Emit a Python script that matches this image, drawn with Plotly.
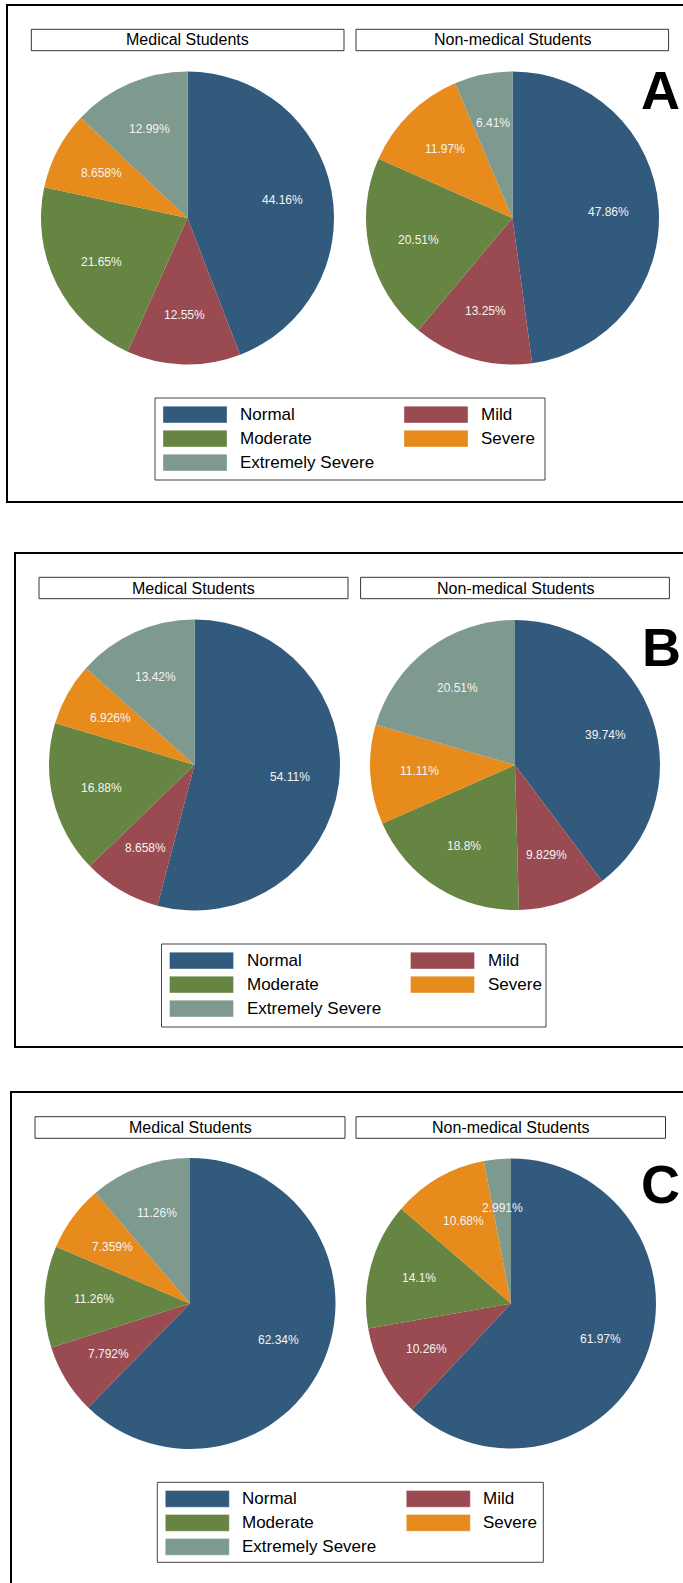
import math
import plotly.graph_objects as go

W, H = 683, 1583

categories = ["Normal", "Mild", "Moderate", "Severe", "Extremely Severe"]
colors = ["#325a7d", "#9a4a51", "#668442", "#e68b1c", "#7e998e"]
groups = ["Medical Students", "Non-medical Students"]
panel_letters = ["A", "B", "C"]

a_medical = [44.16, 12.55, 21.65, 8.658, 12.99]
a_nonmedical = [47.86, 13.25, 20.51, 11.97, 6.41]
b_medical = [54.11, 8.658, 16.88, 6.926, 13.42]
b_nonmedical = [39.74, 9.829, 18.8, 11.11, 20.51]
c_medical = [62.34, 7.792, 11.26, 7.359, 11.26]
c_nonmedical = [61.97, 10.26, 14.1, 10.68, 2.991]

panel_data = [[a_medical, a_nonmedical], [b_medical, b_nonmedical], [c_medical, c_nonmedical]]

# layout geometry (pixels)
panels = [
    dict(left=7, top=5, bottom=502, hy=(29.3, 50.7), hx=[(31.3, 344), (356, 668.6)],
         pies=[(187.5, 218, 146.5), (512.5, 218, 146.5)], leg=(155, 398, 545, 480), letter=(660, 90)),
    dict(left=15, top=553, bottom=1047, hy=(577.3, 598.7), hx=[(39, 348), (360.6, 669.4)],
         pies=[(194.5, 765, 145.5), (515, 765, 145)], leg=(161.5, 944, 546, 1027), letter=(661, 647.5)),
    dict(left=11, top=1092, bottom=1700, hy=(1116.7, 1138.3), hx=[(35, 345), (356, 665.5)],
         pies=[(190, 1303.5, 145.5), (511, 1303.5, 145)], leg=(157.3, 1482.3, 543.3, 1562.3), letter=(660, 1184)),
]


def px(x):
    return x / W


def py(y):
    return 1 - y / H


fig = go.Figure()
shapes = []
annotations = []
layout_axes = {}
ax_i = 0

for p, spec in enumerate(panels):
    # panel border
    shapes.append(dict(type="rect", xref="paper", yref="paper",
                       x0=px(spec["left"]), x1=px(W + 20), y0=py(spec["bottom"]), y1=py(spec["top"]),
                       line=dict(color="black", width=2), fillcolor="rgba(0,0,0,0)", layer="below"))
    for g in range(2):
        vals = panel_data[p][g]
        cx, cy, r = spec["pies"][g]
        dx = [px(cx - r), px(cx + r)]
        dy = [py(cy + r), py(cy - r)]
        fig.add_trace(go.Pie(
            labels=categories, values=vals, sort=False, direction="clockwise", rotation=0,
            marker=dict(colors=colors, line=dict(width=0)),
            textinfo="none", hoverinfo="label+percent", domain=dict(x=dx, y=dy), showlegend=False,
        ))
        # hidden axes matching the pie domain, used to place slice labels
        ax_i += 1
        xa = "xaxis" if ax_i == 1 else f"xaxis{ax_i}"
        ya = "yaxis" if ax_i == 1 else f"yaxis{ax_i}"
        xr = "x" if ax_i == 1 else f"x{ax_i}"
        yr = "y" if ax_i == 1 else f"y{ax_i}"
        layout_axes[xa] = dict(domain=dx, range=[-1, 1], visible=False, fixedrange=True)
        layout_axes[ya] = dict(domain=dy, range=[-1, 1], visible=False, fixedrange=True)
        total = sum(vals)
        cum = 0
        for v in vals:
            mid = (cum + v / 2) / total * 2 * math.pi
            cum += v
            annotations.append(dict(
                xref=xr, yref=yr, x=0.66 * math.sin(mid), y=0.66 * math.cos(mid),
                text=f"{v:.4g}%", showarrow=False, xanchor="center", yanchor="middle",
                font=dict(family="Liberation Sans, Arial, sans-serif", size=12, color="#f4f4f4")))
        # header box
        hx0, hx1 = spec["hx"][g]
        hy0, hy1 = spec["hy"]
        shapes.append(dict(type="rect", xref="paper", yref="paper",
                           x0=px(hx0), x1=px(hx1), y0=py(hy1), y1=py(hy0),
                           line=dict(color="#333333", width=1), fillcolor="white"))
        annotations.append(dict(xref="paper", yref="paper", x=px((hx0 + hx1) / 2), y=py((hy0 + hy1) / 2),
                                text=groups[g], showarrow=False, xanchor="center", yanchor="middle",
                                font=dict(family="Liberation Sans, Arial, sans-serif", size=16, color="black")))
    # legend
    lx0, ly0, lx1, ly1 = spec["leg"]
    shapes.append(dict(type="rect", xref="paper", yref="paper",
                       x0=px(lx0), x1=px(lx1), y0=py(ly1), y1=py(ly0),
                       line=dict(color="#444444", width=1), fillcolor="white"))
    for i, (cat, col) in enumerate(zip(categories, colors)):
        row, c = divmod(i, 2)
        sx0 = lx0 + (8 if c == 0 else 249)
        sx1 = sx0 + 64
        sy0 = ly0 + 8.2 + 24 * row
        sy1 = sy0 + 16.7
        shapes.append(dict(type="rect", xref="paper", yref="paper",
                           x0=px(sx0), x1=px(sx1), y0=py(sy1), y1=py(sy0),
                           line=dict(color="rgba(255,255,255,0.35)", width=1), fillcolor=col))
        annotations.append(dict(xref="paper", yref="paper", x=px(sx1 + 11), y=py((sy0 + sy1) / 2),
                                text=cat, showarrow=False, xanchor="left", yanchor="middle",
                                font=dict(family="Liberation Sans, Arial, sans-serif", size=17, color="black")))
    # panel letter
    lx, ly = spec["letter"]
    annotations.append(dict(xref="paper", yref="paper", x=px(lx), y=py(ly),
                            text=f"<b>{panel_letters[p]}</b>", showarrow=False,
                            xanchor="center", yanchor="middle",
                            font=dict(family="Liberation Sans, Arial, sans-serif", size=54, color="black")))

fig.update_layout(
    width=W, height=H, margin=dict(l=0, r=0, t=0, b=0, pad=0),
    paper_bgcolor="white", plot_bgcolor="rgba(0,0,0,0)", showlegend=False,
    shapes=shapes, annotations=annotations, **layout_axes,
)

fig.write_html("out.html")
